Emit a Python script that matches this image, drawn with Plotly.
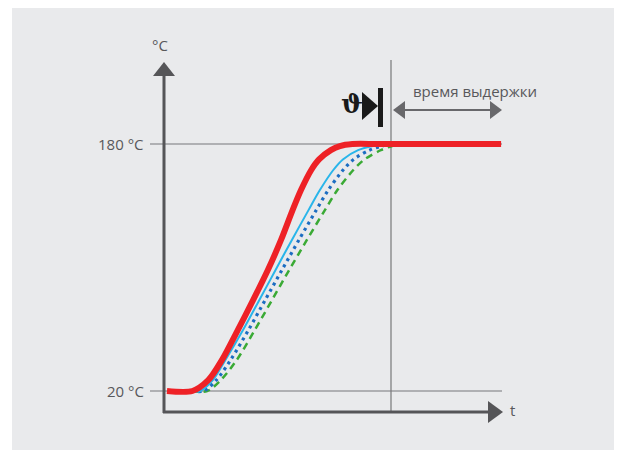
import plotly.graph_objects as go

# time in arbitrary units (holding starts at t = 100), temperature in °C
T_red = [20, 20, 27, 40, 59.5, 79, 98.5, 118, 137, 150, 163, 170, 176, 178.7, 180, 180, 180]
t_red = [1.3, 12.5, 19.5, 25.5, 32.5, 39.3, 45.8, 51.6, 56.6, 60.3, 64.8, 68.3, 73.5, 77.5, 83.0, 95.0, 148.5]

T_rise = [20, 20, 27, 40, 59.5, 79, 98.5, 118, 137, 150, 163, 170, 176, 178.7, 180, 180]
t_blue = [12.0, 16.0, 21.5, 27.0, 34.8, 42.0, 49.2, 56.4, 63.6, 68.6, 74.5, 78.8, 85.5, 92.0, 99.0, 106.0]
t_dot = [12.0, 17.5, 23.0, 29.3, 37.2, 44.6, 52.0, 59.5, 67.0, 72.3, 78.8, 83.5, 90.5, 96.0, 101.0, 107.0]
t_green = [12.0, 19.0, 25.0, 32.0, 40.0, 47.6, 55.2, 63.0, 70.8, 76.3, 83.3, 88.3, 95.5, 100.5, 104.5, 110.0]

temp_ticks = [20, 180]
tick_labels = ["20 °C", "180 °C"]
t_hold = 100
hold_label = "время выдержки"


# pixel (in the 622x455 picture) -> data helpers for the decorations
def tx(px):
    return (px - 164) / 2.27


def ty(py):
    return 20 + (391 - py) / 1.54375


AXIS = "#555558"
GRID = "#77777a"
TEXT = "#58585b"

fig = go.Figure()

fig.add_trace(go.Scatter(x=t_green, y=T_rise, mode="lines", line_shape="spline",
                         line=dict(color="#3aaa35", width=2.5, dash="7px,5px", smoothing=0.9)))
fig.add_trace(go.Scatter(x=t_dot, y=T_rise, mode="lines", line_shape="spline",
                         line=dict(color="#1c6dc2", width=3.2, dash="3px,4px", smoothing=0.9)))
fig.add_trace(go.Scatter(x=t_blue, y=T_rise, mode="lines", line_shape="spline",
                         line=dict(color="#29b5ea", width=2, smoothing=0.9)))
fig.add_trace(go.Scatter(x=t_red, y=T_red, mode="lines", line_shape="spline",
                         line=dict(color="#ee2126", width=6, smoothing=0.8)))

shapes = []
# temperature gridlines
for T in temp_ticks:
    shapes.append(dict(type="line", x0=tx(150), x1=tx(502), y0=T, y1=T,
                       line=dict(color=GRID, width=1.2), layer="below"))
# hold-time vertical line
shapes.append(dict(type="line", x0=t_hold, x1=t_hold, y0=ty(412), y1=ty(60),
                   line=dict(color=GRID, width=1.2), layer="below"))
# y axis with arrow
shapes.append(dict(type="line", x0=0, x1=0, y0=ty(413), y1=ty(72),
                   line=dict(color=AXIS, width=3)))
shapes.append(dict(type="path", fillcolor=AXIS, line=dict(width=0),
                   path=f"M {tx(164)} {ty(62)} L {tx(153)} {ty(76)} L {tx(175)} {ty(76)} Z"))
# x axis with arrow
shapes.append(dict(type="line", x0=tx(163), x1=tx(492), y0=ty(412), y1=ty(412),
                   line=dict(color=AXIS, width=3)))
shapes.append(dict(type="path", fillcolor=AXIS, line=dict(width=0),
                   path=f"M {tx(503)} {ty(412)} L {tx(488)} {ty(401)} L {tx(488)} {ty(423)} Z"))
# double arrow for holding time
shapes.append(dict(type="line", x0=tx(400), x1=tx(495), y0=ty(110), y1=ty(110),
                   line=dict(color="#68686b", width=2)))
shapes.append(dict(type="path", fillcolor="#68686b", line=dict(width=0),
                   path=f"M {tx(393)} {ty(110)} L {tx(405)} {ty(101)} L {tx(405)} {ty(119)} Z"))
shapes.append(dict(type="path", fillcolor="#68686b", line=dict(width=0),
                   path=f"M {tx(502)} {ty(110)} L {tx(490)} {ty(101)} L {tx(490)} {ty(119)} Z"))
# theta marker: triangle and bar
shapes.append(dict(type="path", fillcolor="#1a1a1a", line=dict(width=0),
                   path=f"M {tx(362)} {ty(92)} L {tx(378)} {ty(106)} L {tx(362)} {ty(120)} Z"))
shapes.append(dict(type="rect", x0=tx(378), x1=tx(383), y0=ty(127), y1=ty(88),
                   fillcolor="#1a1a1a", line=dict(width=0)))

annotations = []
for T, lab in zip(temp_ticks, tick_labels):
    annotations.append(dict(x=tx(146), y=T, text=lab, showarrow=False, xanchor="right",
                            font=dict(family="Open Sans", size=15, color=TEXT)))
annotations.append(dict(x=tx(160), y=ty(45), text="°C", showarrow=False,
                        font=dict(family="Open Sans", size=15, color=TEXT)))
annotations.append(dict(x=tx(508), y=ty(410), text="t", showarrow=False, xanchor="left",
                        font=dict(family="Open Sans", size=15, color=TEXT)))
annotations.append(dict(x=tx(475), y=ty(91), text=hold_label, showarrow=False,
                        font=dict(family="Open Sans", size=15, color=TEXT)))
annotations.append(dict(x=tx(352), y=ty(104), text="<b>ϑ</b>", showarrow=False,
                        font=dict(family="DejaVu Serif", size=26, color="#1a1a1a")))

# the page body adds 8 px on the left and top, so the figure is drawn 8 px smaller
fig.update_layout(
    width=614,
    height=447,
    margin=dict(l=4, r=0, t=0, b=5),
    paper_bgcolor="white",
    plot_bgcolor="#e9eaec",
    showlegend=False,
    shapes=shapes,
    annotations=annotations,
    xaxis=dict(range=[tx(12), tx(622)], visible=False, fixedrange=True),
    yaxis=dict(range=[ty(450), ty(8)], visible=False, fixedrange=True),
)

fig.write_html("out.html")
